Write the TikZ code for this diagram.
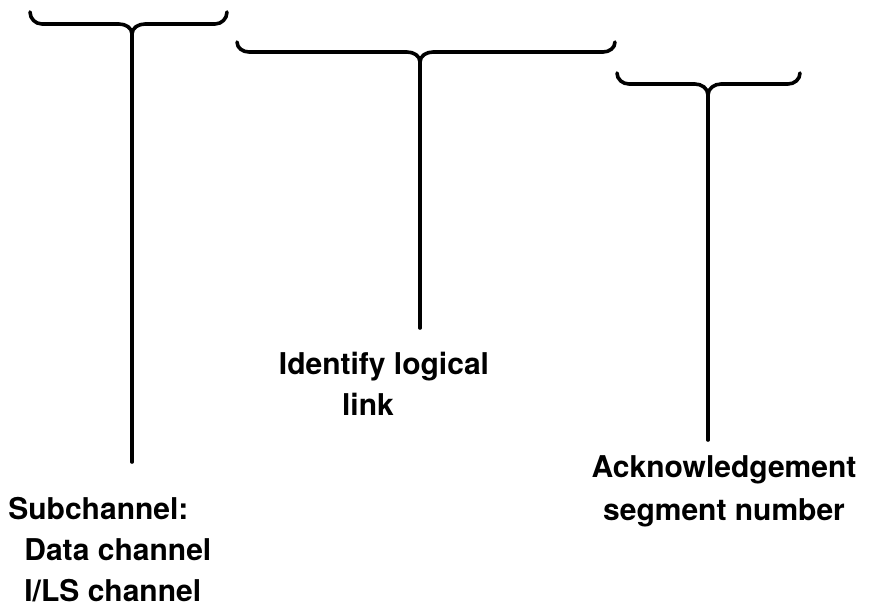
\documentclass[tikz,border=0pt]{standalone}
\usepackage{fontspec}
\setmainfont{TeX Gyre Heros}
\tikzset{
  brace/.style={line width=1.8pt,line cap=round,line join=round},
  lbl/.style={font=\fontsize{15}{20.5}\selectfont\bfseries,inner sep=0pt},
}
\begin{document}
\begin{tikzpicture}[x=0.5pt,y=-0.5pt]
\useasboundingbox (0,0) rectangle (888,612);
% brace over the subchannel field
\coordinate (b1) at (132,34);
\coordinate (e1) at (132,462);
\draw[brace](30,12) to[out=-90,in=180] (42,24) -- (119,24) to[out=0,in=90] (b1);
\draw[brace](227,12) to[out=-90,in=0] (215,24) -- (145,24) to[out=180,in=90] (b1);
\draw[brace](b1)--(e1);
% brace over the logical link field
\coordinate (b2) at (420,62);
\coordinate (e2) at (420,328);
\draw[brace](237,42) to[out=-90,in=180] (249,52) -- (407,52) to[out=0,in=90] (b2);
\draw[brace](615,42) to[out=-90,in=0] (603,52) -- (433,52) to[out=180,in=90] (b2);
\draw[brace](b2)--(e2);
% brace over the acknowledgement field
\coordinate (b3) at (708,95);
\coordinate (e3) at (708,440);
\draw[brace](617,73) to[out=-90,in=180] (629,84) -- (695,84) to[out=0,in=90] (b3);
\draw[brace](800,73) to[out=-90,in=0] (788,84) -- (721,84) to[out=180,in=90] (b3);
\draw[brace](b3)--(e3);
% labels
\node[lbl,anchor=north west,align=left] (sub) at (8,497)
  {Subchannel:\\\hspace*{8pt}Data channel\\\hspace*{8pt}I/LS channel};
\node[lbl,anchor=north,align=center] (link) at (384,352) {Identify logical\\link\hspace*{16pt}};
\node[lbl,anchor=north,align=center] (ack) at (724,455) {Acknowledgement\\[1pt]segment number};
\end{tikzpicture}
\end{document}
